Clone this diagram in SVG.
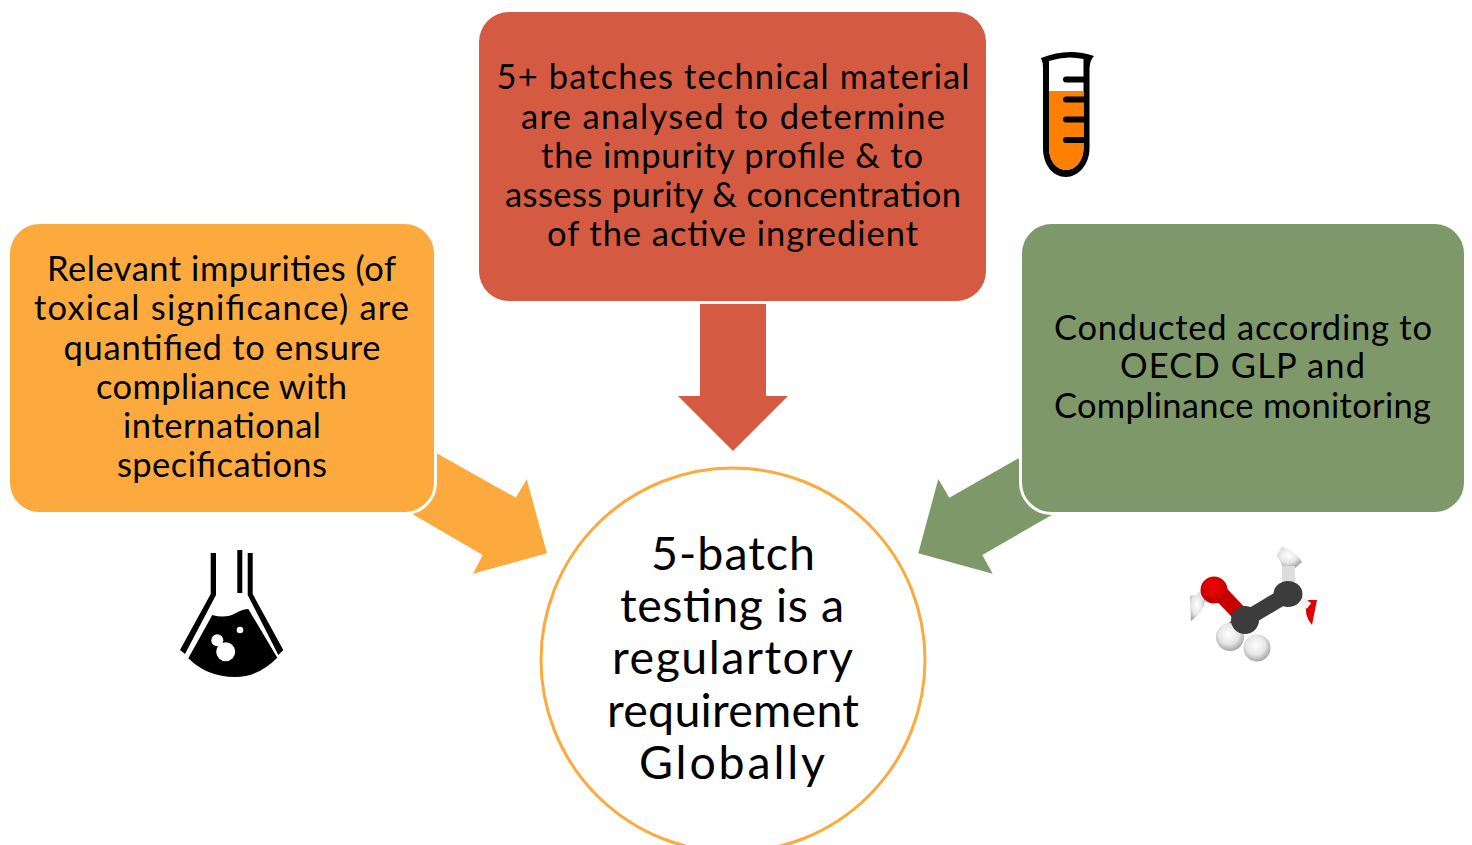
<svg xmlns="http://www.w3.org/2000/svg" width="1472" height="845" viewBox="0 0 1472 845">
<defs>
<style>
text{font-family:"Lato","Open Sans","Liberation Sans",sans-serif;fill:#000;text-anchor:middle}
.b{font-size:34.5px}
.c{font-size:46.5px}
.o{fill:#FCAA3D}
.r{fill:#D45A42}
.g{fill:#7E9869}
.bx{stroke:#fff;stroke-width:3}
.k{fill:none;stroke:#000;stroke-linecap:round}
</style>
<radialGradient id="hg" cx="45%" cy="40%" r="65%"><stop offset="0" stop-color="#fff"/><stop offset="0.55" stop-color="#e6e6e6"/><stop offset="1" stop-color="#999"/></radialGradient>
<radialGradient id="og" cx="45%" cy="40%" r="65%"><stop offset="0" stop-color="#f60000"/><stop offset="1" stop-color="#b80000"/></radialGradient>
</defs>
<rect width="1472" height="845" fill="#fff"/>
<g id="connectors">
<polygon class="o" points="436.7,453.3 515.7,497.7 526.7,479.3 547,553.3 473,573.7 482.7,555 412.7,514.3"/>
<polygon class="g" points="1018.3,458.3 949.3,497.7 938.3,479 918.3,553.3 992.7,573.7 982.3,555 1051.7,515"/>
<polygon class="r" points="700,304 766,304 766,396 788,396 733,451 678,396 700,396"/>
</g>
<g id="node-left">
<rect class="o bx" x="8.500" y="222.500" width="427" height="291" rx="31"/>
<text class="b" x="221.500" y="281" textLength="349">Relevant impurities (of</text>
<text class="b" x="221.500" y="320" textLength="375">toxical significance) are</text>
<text class="b" x="222" y="360" textLength="317">quantified to ensure</text>
<text class="b" x="221.500" y="399" textLength="251">compliance with</text>
<text class="b" x="222" y="438" textLength="198">international</text>
<text class="b" x="222" y="477" textLength="210">specifications</text>
</g>
<g id="node-top">
<rect class="r" x="479" y="12" width="507" height="289" rx="30"/>
<text class="b" x="733" y="89" textLength="473">5+ batches technical material</text>
<text class="b" x="733" y="129" textLength="424">are analysed to determine</text>
<text class="b" x="732" y="168" textLength="382">the impurity profile &amp; to</text>
<text class="b" x="733" y="207" textLength="456">assess purity &amp; concentration</text>
<text class="b" x="732.500" y="246" textLength="371">of the active ingredient</text>
</g>
<g id="node-right">
<rect class="g bx" x="1020.500" y="222.500" width="445" height="291" rx="31"/>
<text class="b" x="1243" y="340" textLength="378">Conducted according to</text>
<text class="b" x="1242.500" y="378" textLength="245">OECD GLP and</text>
<text class="b" x="1242.500" y="418" textLength="377">Complinance monitoring</text>
</g>
<g id="node-center">
<circle cx="733" cy="660" r="192" fill="#fff" stroke="#FCAA3D" stroke-width="3"/>
<text class="c" x="733" y="570" textLength="164">5-batch</text>
<text class="c" x="732" y="622" textLength="224">testing is a</text>
<text class="c" x="732.500" y="674" textLength="241">regulartory</text>
<text class="c" x="733" y="727" textLength="252">requirement</text>
<text class="c" x="732" y="779" textLength="186">Globally</text>
</g>
<g id="icon-tube">
<path d="M1041,58 Q1068,47 1094,56 Q1090,60 1089.500,68 V148 C1089.500,165 1078,177 1066,177 C1053,177 1043,165 1043,148 V68 Q1043,62 1041,58 Z" fill="#000"/>
<path d="M1049,61 Q1066,55 1083.500,59 V148 C1083.500,161 1075,170 1066,170 C1057,170 1049,161 1049,148 Z" fill="#fff"/>
<path d="M1049,91 H1083.500 V148 C1083.500,161 1075,170 1066,170 C1057,170 1049,161 1049,148 Z" fill="#FF8000"/>
<path d="M1066,79.500 H1084 M1066,99.500 H1084 M1066,119.500 H1084 M1066,140 H1084" class="k" stroke-width="6"/>
</g>
<g id="icon-flask">
<polygon points="210.700,553 216,553 216,595 185,654 180,650 210.700,594" fill="#000"/>
<polygon points="247.700,553 252.700,553 252.700,594 283.300,650 278.300,655 247.700,595" fill="#000"/>
<rect x="237.300" y="550" width="5" height="43" fill="#000"/>
<path d="M212.300,615 Q226,619 236,613 Q243,609 248.300,609 L277.300,657.700 Q258,677 235,677 Q207,677 188.300,658.300 Z" fill="#000"/>
<circle cx="217.300" cy="640.300" r="6" fill="#fff"/>
<circle cx="225.700" cy="651.700" r="9.500" fill="#fff"/>
<circle cx="240" cy="630" r="3.300" fill="#fff"/>
</g>
<g id="icon-molecule">
<path d="M1190,596 L1199,594 L1205,600 Q1204,612 1191,621 Z" fill="url(#hg)"/>
<path d="M1199,597 L1208,593" stroke="#e4e4e4" stroke-width="9" fill="none"/>
<path d="M1277,555 L1282,547 Q1295,550 1302,562 L1295,568 L1283,567 Z" fill="url(#hg)"/>
<rect x="1282" y="566" width="13" height="16" fill="#ddd"/>
<path d="M1306,600 L1317,600 L1312,625 Q1304,617 1306,600 Z" fill="#e00000"/>
<path d="M1297,596 L1309,606" stroke="#f2f2f2" stroke-width="7" fill="none"/>
<path d="M1221,594 L1240,614" stroke="#c80000" stroke-width="16" fill="none"/>
<circle cx="1214" cy="590" r="13.500" fill="url(#og)"/>
<path d="M1230,622 L1240,632" stroke="#555" stroke-width="14"/>
<circle cx="1230" cy="637" r="14" fill="url(#hg)"/>
<circle cx="1257" cy="648" r="13.500" fill="url(#hg)"/>
<path d="M1246,619 L1288,594" stroke="#3c3c3c" stroke-width="16" fill="none"/>
<circle cx="1245" cy="620" r="14" fill="#3c3c3c"/>
<ellipse cx="1288" cy="594" rx="14.500" ry="13" fill="#3c3c3c"/>
</g>
</svg>
